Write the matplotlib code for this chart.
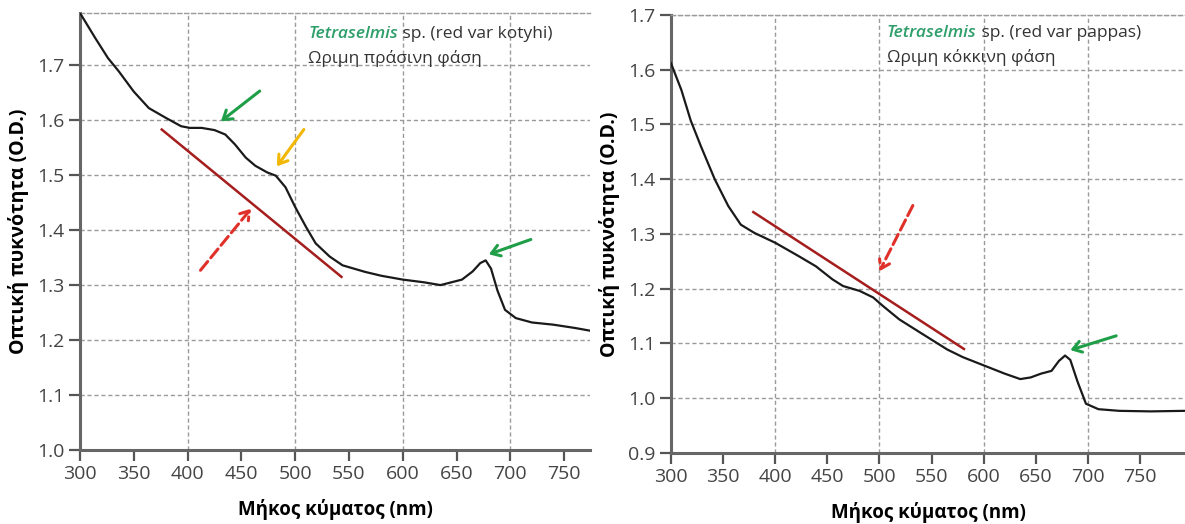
import matplotlib
matplotlib.use('Agg')
import matplotlib.pyplot as plt
from matplotlib.ticker import MultipleLocator, FormatStrFormatter

plt.rcParams['font.family'] = ['Open Sans', 'DejaVu Sans']

# Left panel: Tetraselmis sp. (red var kotyhi), mature green phase
wl_green = [300, 314, 326, 336, 350, 364, 380, 394, 402, 413, 425, 435, 444, 454,
            463, 474, 482, 491, 500, 510, 519, 532, 544, 565, 580, 600, 620, 635,
            645, 655, 665, 672, 677, 682, 688, 695, 705, 720, 740, 760, 780]
od_green = [1.795, 1.75, 1.713, 1.689, 1.652, 1.622, 1.604, 1.589, 1.586, 1.586,
            1.582, 1.574, 1.556, 1.532, 1.517, 1.505, 1.499, 1.478, 1.442, 1.406,
            1.376, 1.352, 1.336, 1.324, 1.317, 1.31, 1.305, 1.300, 1.305, 1.31,
            1.325, 1.34, 1.345, 1.33, 1.29, 1.255, 1.24, 1.232, 1.228, 1.222, 1.215]

# Right panel: Tetraselmis sp. (red var pappas), mature red phase
wl_red = [300, 310, 319, 329, 342, 355, 367, 380, 400, 423, 439, 455, 465, 481,
          494, 503, 519, 539, 565, 580, 600, 620, 635, 645, 655, 665, 672, 678, 683,
          690, 698, 710, 730, 760, 793]
od_red = [1.612, 1.563, 1.507, 1.459, 1.40, 1.351, 1.317, 1.302, 1.284, 1.259,
          1.241, 1.217, 1.205, 1.196, 1.184, 1.169, 1.144, 1.12, 1.089, 1.075,
          1.06, 1.045, 1.035, 1.038, 1.045, 1.05, 1.068, 1.078, 1.07, 1.03, 0.99,
          0.98, 0.977, 0.976, 0.977]

# annotation lines / arrows (data coords): (x0, y0, x1, y1)
trend_green = (376, 1.583, 543, 1.315)
trend_red = (379, 1.34, 581, 1.09)
arrows_green = [  # (tail x, tail y, head x, head y, colour, dashed)
    (467, 1.653, 431, 1.598, '#1f9e48', False),
    (508, 1.583, 483, 1.516, '#f2b705', False),
    (412, 1.327, 459, 1.439, '#e0302a', True),
    (719, 1.383, 680, 1.356, '#1f9e48', False),
]
arrows_red = [
    (532, 1.352, 500, 1.232, '#e0302a', True),
    (727, 1.114, 683, 1.088, '#1f9e48', False),
]

GREY = '#555555'
fig = plt.figure(figsize=(11.85, 5.24), dpi=100)
ax1 = fig.add_axes([0.0675, 0.1412, 0.4304, 0.834])
ax2 = fig.add_axes([0.5662, 0.1355, 0.4338, 0.8359])


def style_axis(ax, xmax, ylim):
    ax.set_xlim(300, xmax)
    ax.set_ylim(*ylim)
    ax.xaxis.set_major_locator(MultipleLocator(100))
    ax.xaxis.set_minor_locator(MultipleLocator(100, offset=50))
    ax.xaxis.set_major_formatter(FormatStrFormatter('%d'))
    ax.xaxis.set_minor_formatter(FormatStrFormatter('%d'))
    ax.yaxis.set_major_locator(MultipleLocator(0.1))
    ax.yaxis.set_major_formatter(FormatStrFormatter('%.1f'))
    ax.tick_params(which='both', direction='out', length=8, width=1.6,
                   colors=GREY, labelsize=14, labelcolor='#444444', pad=3)
    ax.grid(True, which='major', linestyle=(0, (3, 2)), color='#9a9a9a', lw=1)
    for s in ['left', 'bottom']:
        ax.spines[s].set_linewidth(2.2)
        ax.spines[s].set_color('#666666')
    ax.spines['right'].set_visible(False)
    ax.spines['top'].set_linestyle((0, (3, 2)))
    ax.spines['top'].set_color('#9a9a9a')
    ax.spines['top'].set_linewidth(1)
    ax.set_xlabel('Μήκος κύματος (nm)', fontsize=13.5, fontweight='bold', labelpad=11)
    ax.set_ylabel('Οπτική πυκνότητα (O.D.)', fontsize=14, fontweight='bold', labelpad=6)


def add_title(ax, x, y, dy, strain, phase):
    t = ax.text(x, y, 'Tetraselmis', color='#2e9e6a', fontsize=12.5, style='italic',
                fontweight='semibold', va='baseline')
    ax.annotate(' sp. (' + strain + ')', xy=(1, 0), xycoords=t, color='#333333',
                fontsize=12.5, va='bottom')
    ax.text(x, y - dy, phase, color='#333333', fontsize=12.5, va='baseline')


def add_marks(ax, trend, arrows):
    ax.plot([trend[0], trend[2]], [trend[1], trend[3]], color='#a51d1d', lw=1.8, zorder=3)
    for x0, y0, x1, y1, c, dashed in arrows:
        ax.annotate('', xy=(x1, y1), xytext=(x0, y0),
                    arrowprops=dict(arrowstyle='->,head_length=0.6,head_width=0.4',
                                    color=c, lw=2.2,
                                    linestyle='--' if dashed else '-',
                                    shrinkA=0, shrinkB=0), zorder=4)


style_axis(ax1, 774, (1.0, 1.795))
ax1.plot(wl_green, od_green, color='#1a1a1a', lw=1.6, zorder=5)
add_marks(ax1, trend_green, arrows_green)
add_title(ax1, 512, 1.749, 0.0455, 'red var kotyhi', 'Ωριμη πράσινη φάση')

style_axis(ax2, 793, (0.9, 1.7))
ax2.plot(wl_red, od_red, color='#1a1a1a', lw=1.6, zorder=5)
add_marks(ax2, trend_red, arrows_red)
add_title(ax2, 507, 1.66, 0.0458, 'red var pappas', 'Ωριμη κόκκινη φάση')

plt.savefig('out.png', dpi=100)
